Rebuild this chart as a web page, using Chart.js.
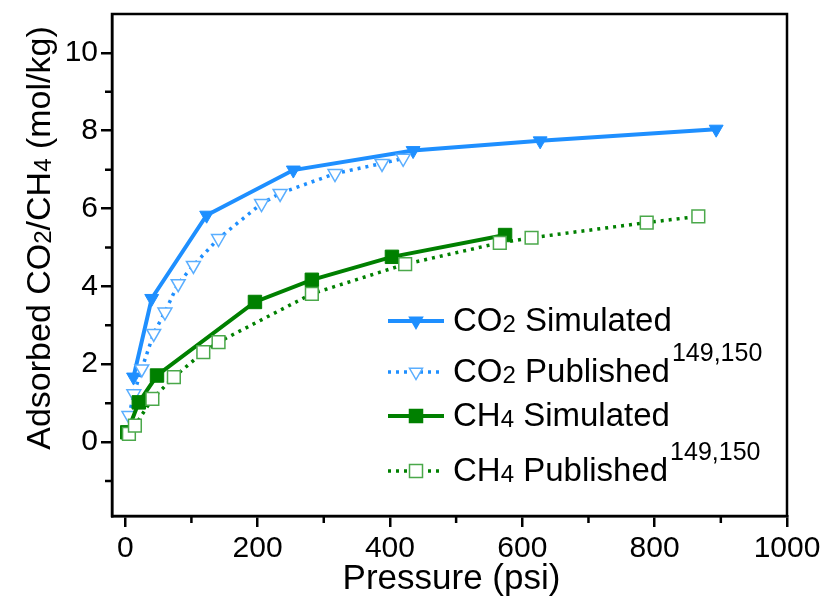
<!DOCTYPE html>
<html>
<head>
<meta charset="utf-8">
<script src="https://cdn.jsdelivr.net/npm/chart.js@4.4.1/dist/chart.umd.min.js"></script>
<style>
    html, body { margin: 0; padding: 0; background: #fff; }
    #wrap { width: 827px; height: 599px; position: relative; }
</style>
</head>
<body>
<div id="wrap"><canvas id="isoChart" width="827" height="599"></canvas></div>
<script>
// values (pressure in psi, uptake in mol/kg)
const co2SimP = [12.5, 40, 123, 254, 435, 627, 893];
const co2SimV = [1.67, 3.69, 5.83, 6.99, 7.49, 7.74, 8.04];

const co2PubP = [5.6, 13, 25, 43, 60, 80, 103, 141, 206, 234, 317, 388, 420];
const co2PubV = [0.68, 1.24, 1.88, 2.79, 3.34, 4.07, 4.54, 5.23, 6.13, 6.39, 6.90, 7.16, 7.29];

const ch4SimP = [3, 20.5, 48, 196, 282, 403, 574];
const ch4SimV = [0.25, 1.02, 1.71, 3.60, 4.17, 4.76, 5.32];

const ch4PubP = [5.6, 14.6, 41, 73.5, 118, 141, 282, 423, 566, 614, 788, 866];
const ch4PubV = [0.21, 0.42, 1.11, 1.67, 2.31, 2.57, 3.81, 4.57, 5.12, 5.25, 5.64, 5.80];

const xTicks = [0, 200, 400, 600, 800, 1000];
const xMinor = [100, 300, 500, 700, 900];
const yTicks = [0, 2, 4, 6, 8, 10];
const yMinor = [-1, 1, 3, 5, 7, 9];

const BLUE = '#1e8fff';
const BLUE_LIGHT = '#5aaeff';
const GREEN = '#008000';
const GREEN_LIGHT = '#4aa84a';
const FONT = 'Liberation Sans, Arial, sans-serif';

function pts(xs, ys) {
    return xs.map((x, i) => ({ x: x, y: ys[i] }));
}

// text with sub/superscripts: parts = [[text, size, dy], ...]
function richWidth(ctx, parts) {
    let w = 0;
    parts.forEach(p => { ctx.font = p[1] + 'px ' + FONT; w += ctx.measureText(p[0]).width; });
    return w;
}
function drawRich(ctx, parts, x, y) {
    let cx = x;
    parts.forEach(p => {
        ctx.font = p[1] + 'px ' + FONT;
        ctx.fillText(p[0], cx, y + (p[2] || 0));
        cx += ctx.measureText(p[0]).width;
    });
    return cx;
}

function marker(ctx, kind, x, y, fill, stroke) {
    ctx.save();
    ctx.beginPath();
    if (kind === 'tri') {
        const r = 7.5;
        ctx.moveTo(x - r * 0.866, y - r * 0.5);
        ctx.lineTo(x + r * 0.866, y - r * 0.5);
        ctx.lineTo(x, y + r);
        ctx.closePath();
    } else {
        const s = 6.5;
        ctx.rect(x - s, y - s, 2 * s, 2 * s);
    }
    ctx.fillStyle = fill;
    ctx.fill();
    ctx.lineWidth = 1.5;
    ctx.strokeStyle = stroke;
    ctx.stroke();
    ctx.restore();
}

const framePlugin = {
    id: 'frame',
    afterDraw(chart) {
        const ctx = chart.ctx;
        const a = chart.chartArea;
        const xs = chart.scales.x, ys = chart.scales.y;
        ctx.save();
        ctx.strokeStyle = '#000';
        ctx.lineWidth = 2.5;
        ctx.strokeRect(a.left, a.top, a.right - a.left, a.bottom - a.top);
        // minor ticks
        ctx.beginPath();
        xMinor.forEach(v => {
            const px = xs.getPixelForValue(v);
            ctx.moveTo(px, a.bottom);
            ctx.lineTo(px, a.bottom + 7);
        });
        yMinor.forEach(v => {
            const py = ys.getPixelForValue(v);
            ctx.moveTo(a.left, py);
            ctx.lineTo(a.left - 7, py);
        });
        ctx.stroke();

        // axis titles
        ctx.fillStyle = '#000';
        ctx.textBaseline = 'alphabetic';
        ctx.font = '35px ' + FONT;
        ctx.textAlign = 'center';
        ctx.fillText('Pressure (psi)', (a.left + a.right) / 2 + 2, 589);
        ctx.textAlign = 'left';

        const yTitle = [['Adsorbed CO', 34], ['2', 24, 1], ['/CH', 34], ['4', 24, 1], [' (mol/kg)', 34]];
        const tw = richWidth(ctx, yTitle);
        ctx.save();
        ctx.translate(50, 238);
        ctx.rotate(-Math.PI / 2);
        drawRich(ctx, yTitle, -tw / 2, 0);
        ctx.restore();

        // legend
        const rows = [
            { y: 321, color: BLUE, dash: [], lw: 4, kind: 'tri', fill: BLUE, stroke: BLUE, name: 'CO', sub: '2', label: ' Simulated', sup: false },
            { y: 372, color: BLUE, dash: [3, 5], lw: 3.5, kind: 'tri', fill: '#fff', stroke: BLUE_LIGHT, name: 'CO', sub: '2', label: ' Published', sup: true },
            { y: 416, color: GREEN, dash: [], lw: 4, kind: 'sq', fill: GREEN, stroke: GREEN, name: 'CH', sub: '4', label: ' Simulated', sup: false },
            { y: 471, color: GREEN, dash: [3, 5], lw: 3.5, kind: 'sq', fill: '#fff', stroke: GREEN_LIGHT, name: 'CH', sub: '4', label: ' Published', sup: true }
        ];
        rows.forEach(r => {
            ctx.save();
            ctx.strokeStyle = r.color;
            ctx.lineWidth = r.lw;
            ctx.setLineDash(r.dash);
            ctx.beginPath();
            ctx.moveTo(388, r.y);
            ctx.lineTo(444, r.y);
            ctx.stroke();
            ctx.restore();
            marker(ctx, r.kind, 416, r.y, r.fill, r.stroke);
            ctx.fillStyle = '#000';
            let end = drawRich(ctx, [[r.name, 33], [r.sub, 24, 1], [r.label, 33]], 453, r.y + 10);
            if (r.sup) {
                ctx.font = '25px ' + FONT;
                ctx.fillText('149,150', end + 2, r.y - 11);
            }
        });
        ctx.restore();
    }
};

function fixTicks(values) {
    return function (scale) {
        scale.ticks = values.map(v => ({ value: v }));
    };
}

const chart = new Chart(document.getElementById('isoChart'), {
    type: 'scatter',
    data: {
        datasets: [
            {
                label: 'CH4 Published',
                data: pts(ch4PubP, ch4PubV),
                showLine: true,
                borderColor: GREEN,
                borderWidth: 3.5,
                borderDash: [3, 5],
                pointStyle: 'rect',
                pointRadius: 9,
                pointBorderWidth: 1.5,
                pointBackgroundColor: '#fff',
                pointBorderColor: GREEN_LIGHT
            },
            {
                label: 'CH4 Simulated',
                data: pts(ch4SimP, ch4SimV),
                showLine: true,
                borderColor: GREEN,
                borderWidth: 4,
                pointStyle: 'rect',
                pointRadius: 9.5,
                pointBorderWidth: 1,
                pointBackgroundColor: GREEN,
                pointBorderColor: GREEN
            },
            {
                label: 'CO2 Published',
                data: pts(co2PubP, co2PubV),
                showLine: true,
                borderColor: BLUE,
                borderWidth: 3.5,
                borderDash: [3, 5],
                pointStyle: 'triangle',
                rotation: 180,
                pointRadius: 8,
                pointBorderWidth: 1.5,
                pointBackgroundColor: '#fff',
                pointBorderColor: BLUE_LIGHT
            },
            {
                label: 'CO2 Simulated',
                data: pts(co2SimP, co2SimV),
                showLine: true,
                borderColor: BLUE,
                borderWidth: 4,
                pointStyle: 'triangle',
                rotation: 180,
                pointRadius: 8,
                pointBorderWidth: 1,
                pointBackgroundColor: BLUE,
                pointBorderColor: BLUE
            }
        ]
    },
    options: {
        responsive: false,
        animation: false,
        layout: { padding: { left: 0, right: 40, top: 14, bottom: 0 } },
        plugins: {
            legend: { display: false },
            tooltip: { enabled: false }
        },
        scales: {
            x: {
                type: 'linear',
                min: -20,
                max: 1000,
                afterBuildTicks: fixTicks(xTicks),
                afterFit(scale) {
                    scale.height = 83;
                    scale.paddingLeft = 0;
                    scale.paddingRight = 0;
                },
                border: { display: true, color: '#000', width: 2.5 },
                grid: { drawOnChartArea: false, drawTicks: true, tickLength: 11, color: '#000', lineWidth: 2.5 },
                ticks: { color: '#000', font: { family: FONT, size: 30 }, padding: 4, maxRotation: 0, callback: v => String(v) }
            },
            y: {
                type: 'linear',
                min: -1.9,
                max: 11,
                afterBuildTicks: fixTicks(yTicks),
                afterFit(scale) {
                    scale.width = 112;
                    scale.paddingTop = 0;
                    scale.paddingBottom = 0;
                },
                border: { display: true, color: '#000', width: 2.5 },
                grid: { drawOnChartArea: false, drawTicks: true, tickLength: 11, color: '#000', lineWidth: 2.5 },
                ticks: { color: '#000', font: { family: FONT, size: 30 }, padding: 3, callback: v => String(v) }
            }
        }
    },
    plugins: [framePlugin]
});
</script>
</body>
</html>
